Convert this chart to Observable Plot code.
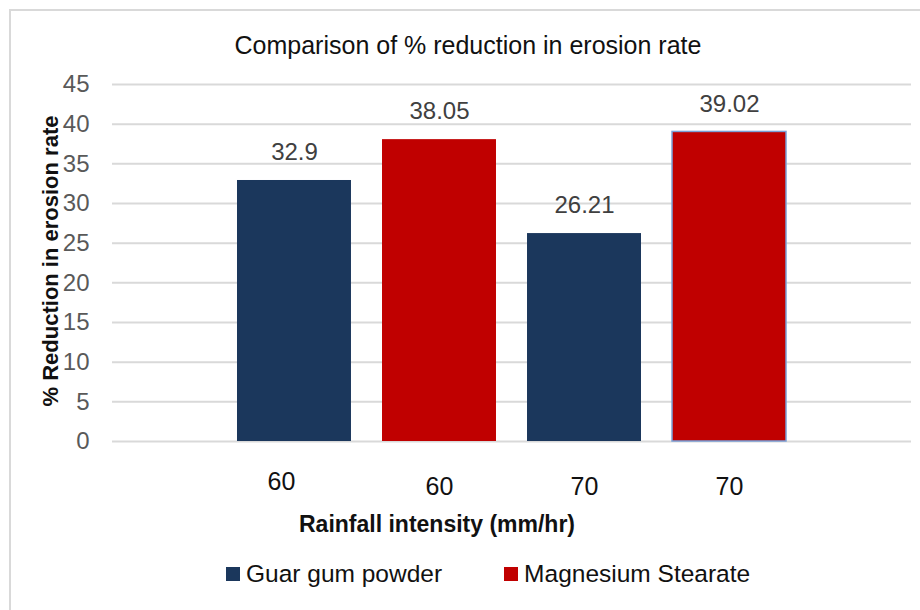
<!DOCTYPE html>
<html><head><meta charset="utf-8">
<script src="https://cdn.jsdelivr.net/npm/d3@7"></script>
<script src="https://cdn.jsdelivr.net/npm/@observablehq/plot@0.6"></script>
<style>
body{margin:0;background:#fff;}
#wrap{position:relative;width:920px;height:610px;overflow:hidden;font-family:"Liberation Sans Narrow","Arial Narrow",sans-serif;}
#frame{position:absolute;left:9px;top:9px;width:1000px;height:1000px;border:2px solid #d9d9d9;box-sizing:border-box}
#chart{position:absolute;left:0;top:0}
#title{position:absolute;left:0;width:936px;top:31px;text-align:center;font-size:25px;color:#111;}
#ylab{position:absolute;left:51px;top:261px;transform:translate(-50%,-50%) rotate(-90deg);white-space:nowrap;font-weight:bold;font-size:22px;color:#111;}
#xlab{position:absolute;left:437px;top:524px;transform:translate(-50%,-50%);white-space:nowrap;font-weight:bold;font-size:23px;color:#111;}
#legend{position:absolute;left:226px;top:560px;display:flex;align-items:center;font-size:24.5px;color:#111;}
.sw{display:inline-block;width:14px;height:14px;margin-right:6px}
.item{display:flex;align-items:center;margin-right:62px}
</style></head>
<body>
<div id="wrap">
<div id="frame"></div>
<div id="chart"></div>
<div id="title"></div>
<div id="ylab"></div>
<div id="xlab"></div>
<div id="legend"></div>
</div>
<script>
const titleText = "Comparison of % reduction in erosion rate";
const yLabel = "% Reduction in erosion rate";
const xLabel = "Rainfall intensity (mm/hr)";
const categories = ["60", "60", "70", "70"];
const seriesOf = ["Guar gum powder", "Magnesium Stearate", "Guar gum powder", "Magnesium Stearate"];
const values = [32.9, 38.05, 26.21, 39.02];
const seriesNames = ["Guar gum powder", "Magnesium Stearate"];
const seriesColors = ["#1b375c", "#c00000"];
const yTicks = [0, 5, 10, 15, 20, 25, 30, 35, 40, 45];

const data = categories.map((c, i) => ({key: "k" + i, cat: c, series: seriesOf[i], value: values[i]}));
const keys = data.map(d => d.key);

const font = '"Liberation Sans Narrow","Arial Narrow",sans-serif';
const plot = Plot.plot({
  width: 920, height: 610,
  marginLeft: 112, marginRight: 9, marginTop: 84, marginBottom: 169,
  style: {fontFamily: font, background: "transparent", overflow: "visible"},
  x: {domain: keys, paddingInner: 0.214, paddingOuter: 0.862, round: false, axis: null},
  y: {domain: [0, 45], axis: null},
  color: {domain: seriesNames, range: seriesColors},
  marks: [
    Plot.ruleY(yTicks, {stroke: "#d9d9d9", strokeWidth: 2}),
    Plot.axisY(yTicks, {tickSize: 0, tickPadding: 23, fontSize: 24, fill: "#595959", label: null}),
    Plot.barY(data, {x: "key", y: "value", fill: "series"}),
    Plot.barY(data.filter((d, i) => i === 3), {x: "key", y: "value", fill: "none", stroke: "#7a9fd6", strokeWidth: 1.5}),
    Plot.text(data, {x: "key", y: "value", text: d => String(d.value), dy: -28, fontSize: 24, fill: "#404040"}),
    Plot.text(data.slice(0, 1), {x: "key", y: () => 0, text: "cat", dy: 40, dx: -13, fontSize: 25, fill: "#111"}),
    Plot.text(data.slice(1), {x: "key", y: () => 0, text: "cat", dy: 45, fontSize: 25, fill: "#111"})
  ]
});
document.getElementById("chart").appendChild(plot);
document.getElementById("title").textContent = titleText;
document.getElementById("ylab").textContent = yLabel;
document.getElementById("xlab").textContent = xLabel;
const lg = document.getElementById("legend");
seriesNames.forEach((n, i) => {
  const it = document.createElement("div"); it.className = "item";
  const sw = document.createElement("span"); sw.className = "sw"; sw.style.background = seriesColors[i];
  const t = document.createElement("span"); t.textContent = n;
  it.appendChild(sw); it.appendChild(t); lg.appendChild(it);
});
</script>
</body></html>
